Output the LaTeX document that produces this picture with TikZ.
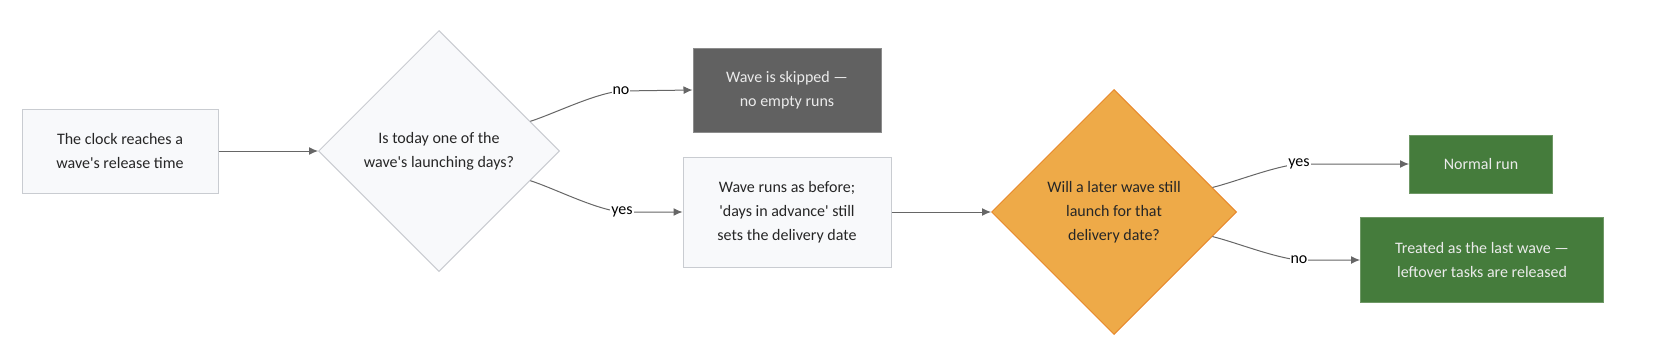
\documentclass[tikz,border=0pt]{standalone}
\usepackage{fontspec}
\setmainfont{Carlito}
\usepackage{xcolor}
\usepackage{tikz}
\usetikzlibrary{arrows.meta,positioning,shapes.geometric}
\tikzset{
  flowarrow/.style={-{Latex[length=9pt,width=8pt]}, line width=1pt,
    draw=FlowLine},
  edgelabel/.style={font=\fontsize{16}{20}\selectfont, fill=white, inner sep=1pt,
    text=black}
}
\definecolor{FlowLine}{HTML}{666666}
\definecolor{PaleFill}{HTML}{F8F9FB}
\definecolor{PaleEdge}{HTML}{C9CCD1}
\definecolor{SkipGray}{HTML}{616161}
\definecolor{SkipEdge}{HTML}{8C8C8C}
\definecolor{RunGreen}{HTML}{457C3C}
\definecolor{RunEdge}{HTML}{6F9866}
\definecolor{AskAmber}{HTML}{EEAA48}
\definecolor{AskEdge}{HTML}{E8892C}
\newcommand{\sq}{\textquotesingle}

\begin{document}
\begin{tikzpicture}[
  x=1pt, y=-1pt,
  font=\fontsize{16}{24}\selectfont,
  procbox/.style={draw, line width=1pt, rectangle, align=center, inner sep=0pt},
  decision/.style={draw, line width=1pt, diamond, aspect=1, align=center, inner sep=0pt},
  palebox/.style={procbox, fill=PaleFill, draw=PaleEdge, text=black!85},
  darkbox/.style={procbox, fill=SkipGray, draw=SkipEdge, text=white!92!black},
  greenbox/.style={procbox, fill=RunGreen, draw=RunEdge, text=white!92!black}
]
\useasboundingbox (0,0) rectangle (1680,354);

\node[palebox, minimum width=196pt, minimum height=84pt] at (120,151) (clock) {The clock reaches a\\wave\sq s release time};
\node[decision, fill=PaleFill, draw=PaleEdge, text=black!85, minimum width=241pt, minimum height=241pt] at (439,151) (today) {Is today one of the\\wave\sq s launching days?};
\node[darkbox, minimum width=188pt, minimum height=84pt] at (787,90) (skipped) {Wave is skipped ---\\no empty runs};
\node[palebox, minimum width=208pt, minimum height=110pt] at (787,212) (runs) {Wave runs as before;\\\sq days in advance\sq{} still\\sets the delivery date};
\node[decision, fill=AskAmber, draw=AskEdge, text=black!85, minimum width=245pt, minimum height=245pt] at (1114,212) (later) {Will a later wave still\\launch for that\\delivery date?};
\node[greenbox, minimum width=143pt, minimum height=58pt] at (1481,164) (normal) {Normal run};
\node[greenbox, minimum width=243pt, minimum height=85pt] at (1482,260) (lastwave) {Treated as the last wave ---\\leftover tasks are released};

% Bend points where the branch labels sit
\coordinate (nobend) at (621,91);
\coordinate (yesbend) at (622,212);
\coordinate (yesbendb) at (1299,164);
\coordinate (nobendb) at (1299,260);

% Trigger into the first question
\draw[flowarrow] (clock.east) -- (today.west);

% First question: skip or run
\draw[flowarrow] (today.18) to[out=18, in=185, looseness=0.7] (nobend) -- (skipped.west);
\draw[flowarrow] (today.-18) to[out=-18, in=175, looseness=0.7] (yesbend) -- (runs.west);
\node[edgelabel] at (nobend) {no};
\node[edgelabel] at (yesbend) {yes};

% Second question: normal run or last wave
\draw[flowarrow] (runs.east) -- (later.west);
\draw[flowarrow] (later.14) to[out=14, in=185, looseness=0.7] (yesbendb) -- (normal.west);
\draw[flowarrow] (later.-14) to[out=-14, in=175, looseness=0.7] (nobendb) -- (lastwave.west);
\node[edgelabel] at (yesbendb) {yes};
\node[edgelabel] at (nobendb) {no};
\end{tikzpicture}
\end{document}
